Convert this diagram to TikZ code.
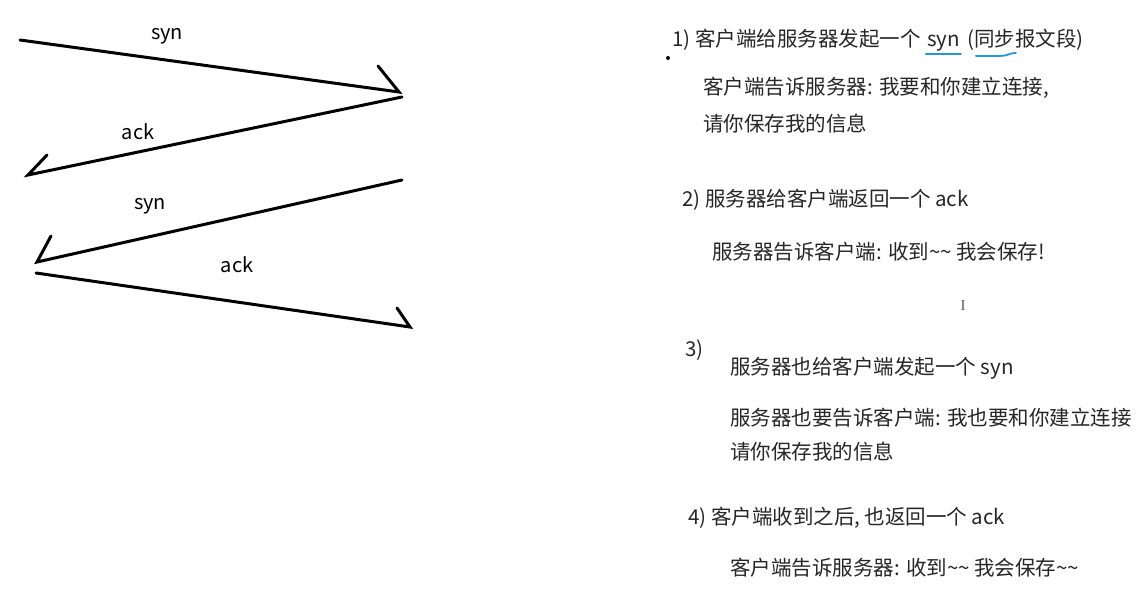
\documentclass[tikz,border=0pt]{standalone}
\usepackage{fontspec}
\setmainfont{Noto Sans CJK SC}
\newfontfamily\curfont{Liberation Serif}
\begin{document}
\begin{tikzpicture}[x=1pt,y=-1pt,
  msg/.style={line width=3pt,line cap=round,black},
  lbl/.style={font=\fontsize{20}{22}\selectfont,inner sep=0pt},
  txt/.style={font=\fontsize{20.5}{22}\selectfont,anchor=west,inner sep=0pt,text=black!85},
  uline/.style={line width=1.8pt,color={rgb,255:red,40;green,150;blue,220},line cap=round}]
\useasboundingbox[fill=white] (0,0) rectangle (1141,604);
% arrow coordinates
\coordinate (a1s) at (20,40);   \coordinate (a1e) at (399,92);  \coordinate (h1) at (378,66);
\coordinate (a2s) at (402,97);  \coordinate (a2e) at (28,175);  \coordinate (h2) at (47,155);
\coordinate (a3s) at (402,180); \coordinate (a3e) at (37,262);  \coordinate (h3) at (51,236);
\coordinate (a4s) at (36,273);  \coordinate (a4e) at (410,327); \coordinate (h4) at (397,308);
\draw[msg] (a1s) -- (a1e) -- (h1);
\draw[msg] (a2s) -- (a2e) -- (h2);
\draw[msg] (a3s) -- (a3e) -- (h3);
\draw[msg] (a4s) -- (a4e) -- (h4);
\node[lbl] (l1) at (167,36) {syn};
\node[lbl] (l2) at (138,132) {ack};
\node[lbl] (l3) at (150,206) {syn};
\node[lbl] (l4) at (237,265) {ack};
% right text
\node[txt] (t1) at (672,40) {1) 客户端给服务器发起一个};
\node[txt,anchor=base west] (t1syn) at ([xshift=6pt]t1.base east) {syn};
\node[txt,anchor=base west] (t1r) at ([xshift=7pt]t1syn.base east) {(同步报文段)};
\fill (668,58) circle (2);
\node[txt] (t1a) at (703,88) {客户端告诉服务器: 我要和你建立连接,};
\node[txt] (t1b) at (703,124) {请你保存我的信息};
\node[txt] (t2) at (682,200) {2) 服务器给客户端返回一个 ack};
\node[txt] (t2a) at (712,252) {服务器告诉客户端: 收到\char"7E\char"7E{} 我会保存!};
\node[font=\fontsize{15}{15}\selectfont\curfont,text=black!65,inner sep=0pt] (cur) at (963,306) {I};
\node[txt] (t3) at (685,350) {3)};
\node[txt] (t3a) at (730,368) {服务器也给客户端发起一个 syn};
\node[txt] (t3b) at (730,418) {服务器也要告诉客户端: 我也要和你建立连接};
\node[txt] (t3c) at (730,452) {请你保存我的信息};
\node[txt] (t4) at (688,518) {4) 客户端收到之后, 也返回一个 ack};
\node[txt] (t4a) at (730,568) {客户端告诉服务器: 收到\char"7E\char"7E{} 我会保存\char"7E\char"7E};
% blue underlines
\draw[uline] ([xshift=-1pt,yshift=-2pt]t1syn.south west) -- ([xshift=1pt,yshift=-2pt]t1syn.south east);
\draw[uline] ([xshift=9pt,yshift=-5pt]t1r.south west) -- ([xshift=33pt,yshift=-5pt]t1r.south west)
  .. controls ([xshift=41pt,yshift=-5pt]t1r.south west) and ([xshift=43pt,yshift=-2pt]t1r.south west) .. ([xshift=49pt,yshift=-2pt]t1r.south west);
\end{tikzpicture}
\end{document}
